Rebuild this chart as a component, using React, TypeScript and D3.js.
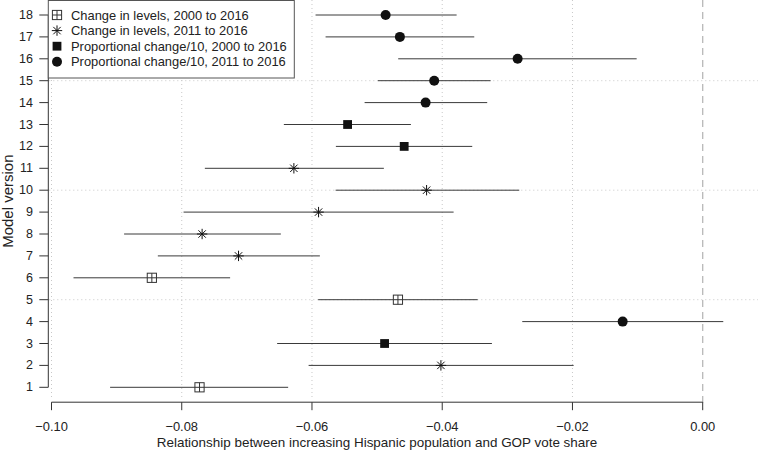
import React from "react";
import * as d3 from "d3";

// ---- data ----
const models = [1, 2, 3, 4, 5, 6, 7, 8, 9, 10, 11, 12, 13, 14, 15, 16, 17, 18];
const types = [0, 1, 2, 3, 0, 0, 1, 1, 1, 1, 1, 2, 2, 3, 3, 3, 3, 3];
const estimates = [
  -0.07727, -0.0402, -0.04885, -0.01229, -0.0468, -0.08459, -0.07128, -0.07687, -0.05899,
  -0.0424, -0.06278, -0.04584, -0.05453, -0.04255, -0.04123, -0.02842, -0.0465, -0.04869,
];
const lower = [
  -0.091, -0.06052, -0.06535, -0.02771, -0.05905, -0.09662, -0.08367, -0.08885, -0.07972,
  -0.05637, -0.07645, -0.05633, -0.06432, -0.05192, -0.04988, -0.04676, -0.05791, -0.05945,
];
const upper = [
  -0.06366, -0.01982, -0.03237, 0.00316, -0.03456, -0.07257, -0.05879, -0.06478, -0.03825,
  -0.02817, -0.04896, -0.03539, -0.04481, -0.03309, -0.03257, -0.01014, -0.03508, -0.03779,
];
const legendLabels = [
  "Change in levels, 2000 to 2016",
  "Change in levels, 2011 to 2016",
  "Proportional change/10, 2000 to 2016",
  "Proportional change/10, 2011 to 2016",
];
const xTicks = [-0.1, -0.08, -0.06, -0.04, -0.02, 0.0];
const hGrid = [5, 10, 15];
const xTitle = "Relationship between increasing Hispanic population and GOP vote share";
const yTitle = "Model version";

const FONT = "'Liberation Sans', Arial, Helvetica, sans-serif";

function Marker({ type, cx, cy }: { type: number; cx: number; cy: number }) {
  const col = "#111";
  if (type === 0) {
    const s = 4.6;
    return (
      <g stroke="#333" strokeWidth={1} fill="none">
        <rect x={cx - s} y={cy - s} width={2 * s} height={2 * s} fill="#fff" />
        <line x1={cx - s} x2={cx + s} y1={cy} y2={cy} />
        <line x1={cx} x2={cx} y1={cy - s} y2={cy + s} />
      </g>
    );
  }
  if (type === 1) {
    const r = 5.2;
    const d = 3.7;
    return (
      <g stroke="#111" strokeWidth={1}>
        <line x1={cx - r} x2={cx + r} y1={cy} y2={cy} />
        <line x1={cx} x2={cx} y1={cy - r} y2={cy + r} />
        <line x1={cx - d} x2={cx + d} y1={cy - d} y2={cy + d} />
        <line x1={cx - d} x2={cx + d} y1={cy + d} y2={cy - d} />
      </g>
    );
  }
  if (type === 2) {
    const s = 4.4;
    return <rect x={cx - s} y={cy - s} width={2 * s} height={2 * s} fill={col} />;
  }
  return <circle cx={cx} cy={cy} r={5} fill={col} />;
}

export default function App() {
  const W = 762;
  const H = 451;
  const x = d3.scaleLinear().domain([-0.1, 0.0]).range([51.5, 702.7]);
  const y = d3.scaleLinear().domain([1, 18]).range([387.3, 15]);
  const plotLeft = 48.3;
  const plotRight = 758;
  const plotTop = 0;
  const plotBottom = 402.2;

  return (
    <svg
      width={W}
      height={H}
      style={{ position: "absolute", left: 0, top: 0, display: "block", background: "#fff" }}
      fontFamily={FONT}
    >
      {/* vertical dotted grid */}
      {xTicks.slice(0, -1).map((t) => (
        <line
          key={"vg" + t}
          x1={x(t)}
          x2={x(t)}
          y1={plotTop}
          y2={plotBottom - 4}
          stroke="#c8c8c8"
          strokeWidth={1}
          strokeDasharray="1 3"
        />
      ))}
      {/* horizontal dotted grid */}
      {hGrid.map((m) => (
        <line
          key={"hg" + m}
          x1={plotLeft + 1}
          x2={plotRight}
          y1={y(m)}
          y2={y(m)}
          stroke="#c8c8c8"
          strokeWidth={1}
          strokeDasharray="1 3"
        />
      ))}
      {/* zero dashed line */}
      <line
        x1={x(0)}
        x2={x(0)}
        y1={plotTop}
        y2={plotBottom + 6}
        stroke="#b8b8b8"
        strokeWidth={1.3}
        strokeDasharray="7 5"
      />

      {/* intervals */}
      {models.map((m, i) => (
        <line
          key={"ci" + m}
          x1={x(lower[i])}
          x2={x(upper[i])}
          y1={y(m)}
          y2={y(m)}
          stroke="#3a3a3a"
          strokeWidth={1}
        />
      ))}
      {/* points */}
      {models.map((m, i) => (
        <Marker key={"pt" + m} type={types[i]} cx={x(estimates[i])} cy={y(m)} />
      ))}

      {/* x axis */}
      <line x1={x(-0.1)} x2={x(0)} y1={plotBottom} y2={plotBottom} stroke="#333" strokeWidth={1} />
      {xTicks.map((t) => (
        <g key={"xt" + t}>
          <line x1={x(t)} x2={x(t)} y1={plotBottom} y2={plotBottom + 8} stroke="#333" strokeWidth={1} />
          <text x={x(t)} y={430.5} textAnchor="middle" fontSize={12.9} fill="#222">
            {d3.format(".2f")(t).replace("-", "\u2212")}
          </text>
        </g>
      ))}
      <text x={377} y={447} textAnchor="middle" fontSize={13.45} fill="#222">
        {xTitle}
      </text>

      {/* y axis */}
      <line x1={plotLeft} x2={plotLeft} y1={y(1)} y2={y(18)} stroke="#333" strokeWidth={1} />
      {models.map((m) => (
        <g key={"yt" + m}>
          <line x1={plotLeft - 9} x2={plotLeft} y1={y(m)} y2={y(m)} stroke="#333" strokeWidth={1} />
          <text
            x={33}
            y={y(m)}
            textAnchor="end"
            dominantBaseline="central"
            fontSize={12.5}
            fill="#222"
          >
            {m}
          </text>
        </g>
      ))}
      <text
        transform={`translate(13, ${(y(1) + y(18)) / 2}) rotate(-90)`}
        textAnchor="middle"
        fontSize={15}
        fill="#222"
      >
        {yTitle}
      </text>

      {/* legend */}
      <g>
        <rect x={48.3} y={0.5} width={246} height={77.5} fill="#fff" stroke="#555" strokeWidth={1} />
        {legendLabels.map((lab, i) => (
          <g key={"lg" + i}>
            <Marker type={i} cx={57} cy={15 + i * 15.6} />
            <text x={71} y={15 + i * 15.6} dominantBaseline="central" fontSize={12.9} fill="#222">
              {lab}
            </text>
          </g>
        ))}
      </g>
    </svg>
  );
}
